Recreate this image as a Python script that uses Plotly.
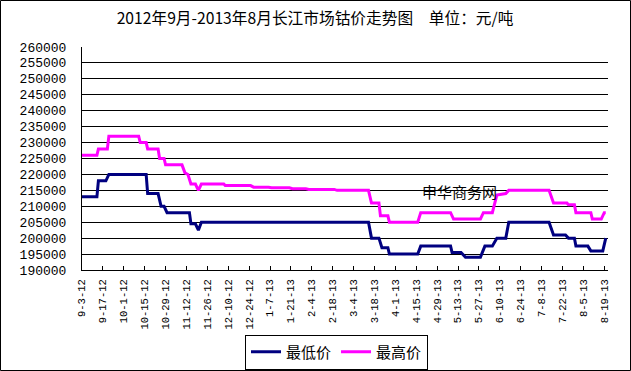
import plotly.graph_objects as go
from datetime import datetime

# ---- data ----
tick_labels = ["9-3-12", "9-17-12", "10-1-12", "10-15-12", "10-29-12", "11-12-12",
               "11-26-12", "12-10-12", "12-24-12", "1-7-13", "1-21-13", "2-4-13",
               "2-18-13", "3-4-13", "3-18-13", "4-1-13", "4-15-13", "4-29-13",
               "5-13-13", "5-27-13", "6-10-13", "6-24-13", "7-8-13", "7-22-13",
               "8-5-13", "8-19-13"]

low_dates = ["2012-09-03", "2012-09-13", "2012-09-14", "2012-09-19", "2012-09-21",
             "2012-10-16", "2012-10-17", "2012-10-24", "2012-10-26", "2012-10-28",
             "2012-10-30", "2012-11-14", "2012-11-15", "2012-11-18", "2012-11-20",
             "2012-11-22", "2013-03-14", "2013-03-16", "2013-03-21", "2013-03-23",
             "2013-03-27", "2013-03-28", "2013-04-16", "2013-04-18", "2013-05-08",
             "2013-05-09", "2013-05-15", "2013-05-18", "2013-05-28", "2013-05-31",
             "2013-06-05", "2013-06-08", "2013-06-14", "2013-06-16", "2013-07-13",
             "2013-07-16", "2013-07-24", "2013-07-26", "2013-07-30", "2013-07-31",
             "2013-08-08", "2013-08-10", "2013-08-18", "2013-08-20"]
low_values = [213000, 213000, 218000, 218000, 220000,
              220000, 214000, 214000, 210000, 210000,
              208000, 208000, 204500, 204500, 202500,
              205000, 205000, 200000, 200000, 197000,
              197000, 195000, 195000, 197500, 197500,
              195500, 195500, 194000, 194000, 197500,
              197500, 200000, 200000, 205000, 205000,
              201000, 201000, 200000, 200000, 197500,
              197500, 196000, 196000, 200000]

high_dates = ["2012-09-03", "2012-09-13", "2012-09-14", "2012-09-20", "2012-09-21",
              "2012-10-11", "2012-10-12", "2012-10-16", "2012-10-17", "2012-10-24",
              "2012-10-25", "2012-10-28", "2012-10-29", "2012-11-09", "2012-11-11",
              "2012-11-13", "2012-11-15", "2012-11-18", "2012-11-20", "2012-11-22",
              "2012-12-07", "2012-12-08", "2012-12-25", "2012-12-27", "2013-01-06",
              "2013-01-08", "2013-01-20", "2013-01-22", "2013-01-31", "2013-02-02",
              "2013-02-19", "2013-02-21", "2013-03-14", "2013-03-16", "2013-03-21",
              "2013-03-22", "2013-03-27", "2013-03-28", "2013-04-16", "2013-04-18",
              "2013-05-08", "2013-05-10", "2013-05-28", "2013-05-30", "2013-06-05",
              "2013-06-08", "2013-06-14", "2013-06-16", "2013-07-13", "2013-07-16",
              "2013-07-25", "2013-07-26", "2013-07-30", "2013-07-31", "2013-08-10",
              "2013-08-11", "2013-08-17", "2013-08-19", "2013-08-20"]
high_values = [226000, 226000, 228000, 228000, 232000,
               232000, 230000, 230000, 228000, 228000,
               225000, 225000, 223000, 223000, 220500,
               220000, 217000, 217000, 215000, 217000,
               217000, 216500, 216500, 216000, 216000,
               215800, 215800, 215500, 215500, 215300,
               215300, 215000, 215000, 211000, 211000,
               207000, 207000, 205000, 205000, 208000,
               208000, 206000, 206000, 208000, 208000,
               213500, 214000, 215000, 215000, 211000,
               211000, 210500, 210500, 208000, 208000,
               206000, 206000, 208000, 208000]

series_names = ["最低价", "最高价"]
title_text = "2012年9月-2013年8月长江市场钴价走势图　单位：元/吨"
watermark = "申华商务网"


def label_to_date(s):
    m, d, y = s.split("-")
    return datetime(2000 + int(y), int(m), int(d)).strftime("%Y-%m-%d")


tick_vals = [label_to_date(s) for s in tick_labels]

# ---- figure ----
fig = go.Figure()
fig.add_trace(go.Scatter(x=low_dates, y=low_values, mode="lines", name=series_names[0],
                         line=dict(color="#000080", width=3)))
fig.add_trace(go.Scatter(x=high_dates, y=high_values, mode="lines", name=series_names[1],
                         line=dict(color="#FF00FF", width=3)))

L, R, T, B = 82, 23, 47, 101
W, H = 631, 371
pw, ph = W - L - R, H - T - B


def px_x(p):
    return (p - L) / pw


def px_y(p):
    return 1 - (p - T) / ph


fig.update_layout(
    width=W, height=H,
    margin=dict(l=L, r=R, t=T, b=B, autoexpand=False),
    paper_bgcolor="white", plot_bgcolor="white",
    font=dict(family="Liberation Mono, Noto Sans CJK SC", color="black"),
    title=dict(text=title_text, x=315 / W, xref="container", xanchor="center",
               y=1 - 19 / H, yref="container", yanchor="middle",
               font=dict(family="Noto Sans CJK SC", size=15.7, color="black")),
    showlegend=True,
    legend=dict(orientation="h", x=px_x(245), xanchor="left", y=px_y(352), yanchor="middle",
                bordercolor="black", borderwidth=1, bgcolor="white",
                font=dict(family="Noto Sans CJK SC", size=15, color="black"),
                itemwidth=30, tracegroupgap=0),
    xaxis=dict(type="date", range=["2012-09-03", "2013-08-21 12:00"],
               tickmode="array", tickvals=tick_vals, ticktext=tick_labels,
               tickangle=-90, ticks="inside", ticklen=4, tickcolor="black",
               showline=True, linecolor="black", linewidth=1, showgrid=False,
               zeroline=False, ticklabelstandoff=4, automargin=False,
               tickfont=dict(family="Liberation Mono", size=10.5, color="black")),
    yaxis=dict(range=[190000, 260000], dtick=5000, tick0=190000,
               showgrid=True, gridcolor="black", gridwidth=1,
               showline=True, linecolor="black", linewidth=1, zeroline=False,
               ticks="", ticklabelstandoff=12, tickformat="d", automargin=False,
               tickfont=dict(family="Liberation Mono", size=13, color="black")),
    shapes=[dict(type="rect", xref="paper", yref="paper",
                 x0=px_x(0.5), x1=px_x(630.5), y0=px_y(370.5), y1=px_y(0.5),
                 line=dict(color="black", width=1), layer="above")],
    annotations=[dict(text=watermark, xref="paper", yref="paper",
                      x=px_x(420), y=px_y(191), xanchor="left", yanchor="middle",
                      showarrow=False,
                      font=dict(family="Noto Sans CJK SC", size=15, color="black"))],
)

fig.write_html(
    "out.html",
    config={"displayModeBar": False},
    post_script="document.body.style.margin='0';document.body.style.padding='0';"
                "document.body.style.overflow='hidden';"
                "document.documentElement.style.overflow='hidden';",
)
